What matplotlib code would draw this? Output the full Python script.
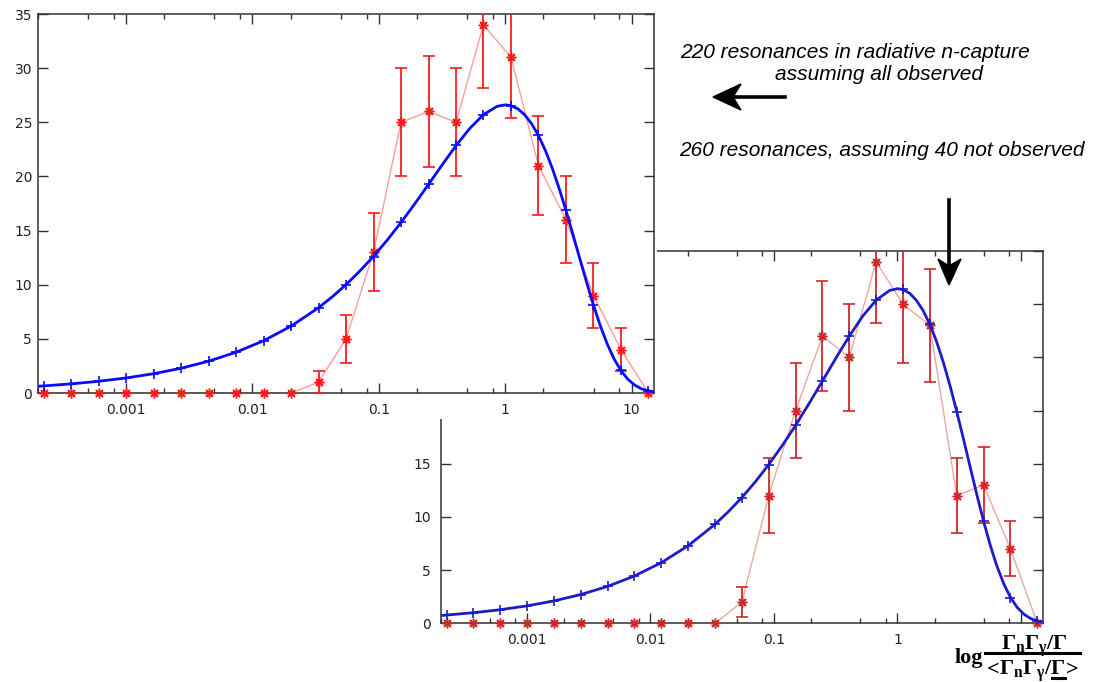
import matplotlib
matplotlib.use("Agg")
import matplotlib.pyplot as plt
from matplotlib import ticker
from matplotlib.patches import Rectangle, Polygon
from matplotlib.lines import Line2D

W, H = 1099, 682

# centres des bins (espacement 0.5 en ln)
bin_x = [2.23e-4, 3.67e-4, 6.06e-4, 1.0e-3, 1.65e-3, 2.72e-3, 4.49e-3, 7.41e-3,
         0.01223, 0.02018, 0.0333, 0.0550, 0.0907, 0.1496, 0.2469, 0.4074,
         0.672, 1.109, 1.83, 3.02, 4.98, 8.22, 13.57]

# 220 resonances, toutes observees
obs_counts = [0, 0, 0, 0, 0, 0, 0, 0, 0, 0, 1, 5, 13, 25, 26, 25, 34, 31, 21, 16, 9, 4, 0]
obs_err = [0, 0, 0, 0, 0, 0, 0, 0, 0, 0, 1.0, 2.2, 3.6, 5.0, 5.1, 5.0, 5.8, 5.6, 4.6, 4.0, 3.0, 2.0, 0]
obs_model = [0.66, 0.84, 1.08, 1.39, 1.78, 2.29, 2.93, 3.76, 4.82, 6.17, 7.88, 10.0,
             12.6, 15.8, 19.3, 22.9, 25.7, 26.5, 23.8, 16.9, 8.1, 2.1, 0.18]

# 260 resonances, 40 non observees
miss_counts = [0, 0, 0, 0, 0, 0, 0, 0, 0, 0, 0, 2, 12, 20, 27, 25, 34, 30, 28, 12, 13, 7, 0]
miss_err = [0, 0, 0, 0, 0, 0, 0, 0, 0, 0, 0, 1.4, 3.5, 4.5, 5.2, 5.0, 5.8, 5.5, 5.3, 3.5, 3.6, 2.6, 0]
miss_model = [0.77, 0.99, 1.28, 1.64, 2.11, 2.70, 3.47, 4.45, 5.70, 7.29, 9.31, 11.8,
              14.9, 18.6, 22.8, 27.0, 30.4, 31.4, 28.1, 19.9, 9.6, 2.4, 0.22]

# courbe lisse (Porter-Thomas)
curve_x = [2.0e-4, 2.23e-4, 3.67e-4, 6.06e-4, 1.0e-3, 1.65e-3, 2.72e-3, 4.49e-3,
           7.41e-3, 0.01223, 0.02018, 0.0333, 0.04276, 0.0550, 0.07062, 0.0907,
           0.1165, 0.1496, 0.1921, 0.2469, 0.3170, 0.4074, 0.5231, 0.672, 0.8629,
           1.0, 1.109, 1.257, 1.424, 1.614, 1.83, 2.074, 2.350, 2.664, 3.02, 3.423,
           3.878, 4.395, 4.98, 5.645, 6.394, 7.248, 8.22, 9.316, 10.555, 11.96,
           13.57, 15.0]
obs_curve = [0.62, 0.655, 0.841, 1.080, 1.387, 1.781, 2.285, 2.934, 3.763, 4.824,
             6.171, 7.875, 8.882, 10.01, 11.26, 12.63, 14.13, 15.75, 17.47, 19.27,
             21.08, 22.85, 24.43, 25.71, 26.48, 26.61, 26.54, 26.24, 25.69, 24.87,
             23.77, 22.40, 20.77, 18.90, 16.85, 14.66, 12.43, 10.22, 8.12, 6.20,
             4.54, 3.15, 2.06, 1.27, 0.73, 0.38, 0.18, 0.09]
miss_curve = [0.73, 0.774, 0.994, 1.277, 1.639, 2.105, 2.701, 3.467, 4.448, 5.701,
              7.293, 9.307, 10.50, 11.83, 13.30, 14.93, 16.70, 18.61, 20.65, 22.78,
              24.92, 27.00, 28.88, 30.38, 31.29, 31.46, 31.37, 31.02, 30.36, 29.40,
              28.10, 26.48, 24.55, 22.34, 19.91, 17.33, 14.69, 12.08, 9.60, 7.33,
              5.36, 3.73, 2.44, 1.50, 0.86, 0.45, 0.22, 0.11]

xticks = [0.001, 0.01, 0.1, 1, 10]
xticklabels_top = ["0.001", "0.01", "0.1", "1", "10"]
xticklabels_bottom = ["0.001", "0.01", "0.1", "1", ""]
yticks = [0, 5, 10, 15, 20, 25, 30, 35]

plt.rcParams["mathtext.fontset"] = "custom"
plt.rcParams["mathtext.rm"] = "Liberation Serif:bold"
plt.rcParams["mathtext.it"] = "Liberation Serif:bold"
plt.rcParams["mathtext.bf"] = "Liberation Serif:bold"


def fx(px):
    return px / W


def fy(py):
    return 1 - py / H


def panel(ax, counts, err, model, curve, labels, red, pink, blue, ypad):
    ax.plot(bin_x, counts, color=pink, lw=1.0, zorder=2)
    ex = [x for x, e in zip(bin_x, err) if e > 0]
    ey = [c for c, e in zip(counts, err) if e > 0]
    ee = [e for e in err if e > 0]
    ax.errorbar(ex, ey, yerr=ee, fmt="none", ecolor=red, elinewidth=1.3,
                capsize=4, capthick=1.2, zorder=3)
    ax.plot(bin_x, counts, ls="none", marker=(8, 2, 0), ms=7, mec=red, mew=1.1,
            zorder=4, clip_on=False)
    ax.plot(curve_x, curve, color=blue, lw=2.0, zorder=5)
    ax.plot(bin_x, model, ls="none", marker="+", ms=7, mew=1.2, color=blue, zorder=6)

    ax.set_xscale("log")
    ax.set_xlim(2e-4, 15)
    ax.set_ylim(0, 35)
    ax.set_xticks(xticks)
    ax.set_xticklabels(labels)
    ax.xaxis.set_minor_locator(ticker.LogLocator(base=10, subs=(2, 5, 8)))
    ax.xaxis.set_minor_formatter(ticker.NullFormatter())
    ax.set_yticks(yticks)
    ax.yaxis.set_minor_locator(ticker.NullLocator())
    ax.tick_params(which="both", direction="in", top=True, right=True,
                   colors="#333333", labelcolor="#222222", labelsize=10)
    ax.tick_params(axis="x", which="major", length=7, width=1.0, pad=7)
    ax.tick_params(axis="x", which="minor", length=3.5, width=1.0)
    ax.tick_params(axis="y", which="major", length=7, width=1.0, pad=ypad)
    for s in ax.spines.values():
        s.set_color("#333333")
        s.set_linewidth(1.1)


fig = plt.figure(figsize=(W / 100, H / 100), dpi=100)

# graphe du bas : 260 resonances
ax_b = fig.add_axes([fx(440.7), fy(623.3), (1042.7 - 440.7) / W, (623.3 - 251) / H], zorder=0)
panel(ax_b, miss_counts, miss_err, miss_model, miss_curve, xticklabels_bottom,
      "#d42626", "#eaa8a2", "#1c1cc8", 7)

# fond blanc du graphe du haut, par-dessus celui du bas
fig.add_artist(Rectangle((0, fy(419)), fx(657), 1 - fy(419), transform=fig.transFigure,
                         facecolor="white", edgecolor="none", zorder=1))

# graphe du haut : 220 resonances
ax_t = fig.add_axes([fx(37.7), fy(393), (654 - 37.7) / W, (393 - 14) / H], zorder=2)
panel(ax_t, obs_counts, obs_err, obs_model, obs_curve, xticklabels_top,
      "#ff1a1a", "#ff9c9c", "#0a0aff", 4)

# textes
txt = dict(family="Liberation Sans", style="italic", size=15, va="baseline", ha="left")
fig.text(fx(680), fy(58), "220 resonances in radiative n-capture", **txt)
fig.text(fx(775), fy(80), "assuming all observed", **txt)
fig.text(fx(679), fy(156), "260 resonances, assuming 40 not observed", **txt)

# fleches
fig.add_artist(Line2D([fx(785), fx(735)], [fy(97), fy(97)], color="black", lw=2.6, zorder=5))
fig.add_artist(Polygon([(fx(713), fy(97)), (fx(741), fy(84)), (fx(733), fy(97)), (fx(741), fy(110))],
                       closed=True, transform=fig.transFigure, facecolor="black",
                       edgecolor="black", zorder=5))
fig.add_artist(Line2D([fx(949), fx(949)], [fy(200), fy(266)], color="black", lw=2.6, zorder=5))
fig.add_artist(Polygon([(fx(949), fy(285)), (fx(938), fy(259)), (fx(949), fy(266)), (fx(961), fy(259))],
                       closed=True, transform=fig.transFigure, facecolor="black",
                       edgecolor="black", zorder=5))

# etiquette de l'axe x
serif = dict(family="Liberation Serif", weight="bold", size=16, va="baseline", zorder=5)
fig.text(fx(955), fy(663), "log", ha="left", **serif)
fig.text(fx(1034), fy(650), r"$\Gamma_n\Gamma_\gamma/\Gamma$", size=16,
         va="baseline", ha="center", zorder=5)
fig.add_artist(Line2D([fx(985), fx(1080)], [fy(653), fy(653)], color="black", lw=2.2, zorder=5))
fig.text(fx(987), fy(675), "<", ha="left", **serif)
fig.text(fx(1032), fy(675), r"$\Gamma_n\Gamma_\gamma/\Gamma$", size=16,
         va="baseline", ha="center", zorder=5)
fig.text(fx(1066), fy(675), ">", ha="left", **serif)
fig.add_artist(Line2D([fx(1052), fx(1065)], [fy(678), fy(678)], color="black", lw=2.2, zorder=5))

fig.savefig("out.png", dpi=100)
